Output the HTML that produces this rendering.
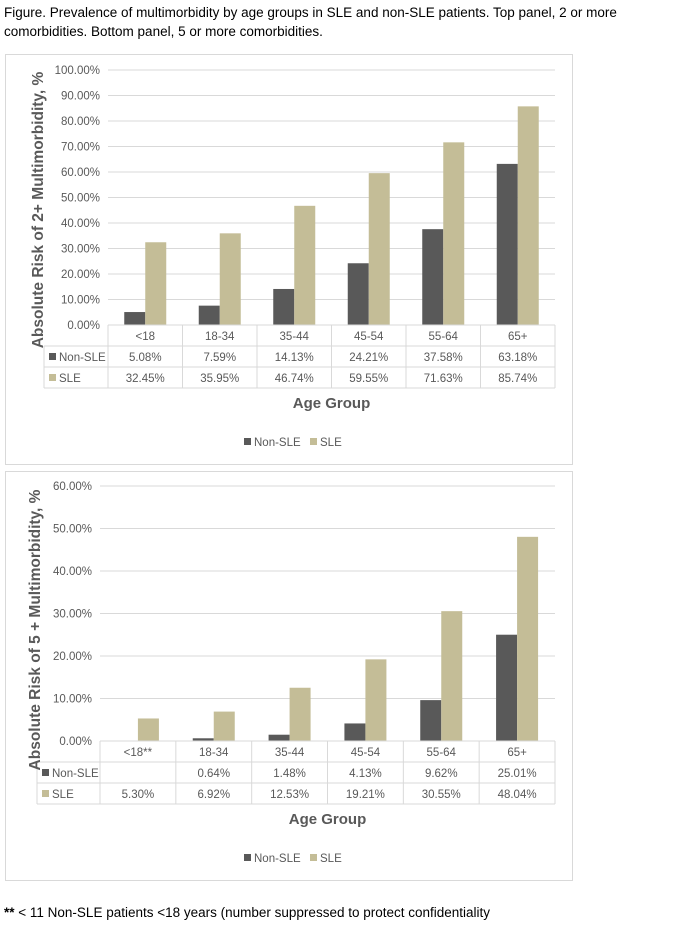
<!DOCTYPE html>
<html><head><meta charset="utf-8"><style>
body{margin:0;background:#fff;width:681px;height:932px;overflow:hidden;font-family:"Liberation Sans",sans-serif}
svg text{font-family:"Liberation Sans",sans-serif}
</style></head><body>
<div style="position:absolute;left:4px;top:3px;width:670px;font-size:13.5px;line-height:19px;color:#000">Figure. Prevalence of multimorbidity by age groups in SLE and non-SLE patients. Top panel, 2 or more comorbidities. Bottom panel, 5 or more comorbidities.</div>
<svg id="s" width="681" height="932" style="position:absolute;left:0;top:0"></svg>
<div style="position:absolute;left:4px;top:905px;font-size:13.5px;color:#000"><b>**</b> &lt; 11 Non-SLE patients &lt;18 years (number suppressed to protect confidentiality</div>
<script>
const categoriesTop=["<18","18-34","35-44","45-54","55-64","65+"];
const nonSleTop=[5.08,7.59,14.13,24.21,37.58,63.18];
const sleTop=[32.45,35.95,46.74,59.55,71.63,85.74];
const ticksTop=[0,10,20,30,40,50,60,70,80,90,100];
const categoriesBot=["<18**","18-34","35-44","45-54","55-64","65+"];
const nonSleBot=[null,0.64,1.48,4.13,9.62,25.01];
const sleBot=[5.30,6.92,12.53,19.21,30.55,48.04];
const ticksBot=[0,10,20,30,40,50,60];
const NS="http://www.w3.org/2000/svg";
const svg=document.getElementById('s');
function mk(t,a,txt,parent){const e=document.createElementNS(NS,t);for(const k in a)e.setAttribute(k,a[k]);if(txt!=null)e.textContent=txt;(parent||svg).appendChild(e);return e;}
function chart(o){
  const g=mk('g',{});
  
  
  const box=mk('rect',{x:o.bx,y:o.by,width:567,height:o.bh,fill:'#fff',stroke:'#d9d9d9'},null,g);
  
  
  const max=o.ticks[o.ticks.length-1];
  const y=v=>o.y0-(v/max)*(o.y0-o.y1);
  const cw=(o.x1-o.x0)/o.cats.length;
  const x=i=>o.x0+i*cw;
  o.ticks.forEach(t=>{
    if(t>0){const l=mk('line',{x1:o.x0,x2:o.x1,y1:y(t),y2:y(t),stroke:'#d9d9d9'},null,g);
    
    }
    const tx=mk('text',{x:o.x0-8,y:y(t)+4,'text-anchor':'end','font-size':11.5,fill:'#595959'},t.toFixed(2)+'%',g);
    
    
  });
  const bw=21;
  o.cats.forEach((c,i)=>{
    const cx=x(i)+cw/2;
    if(o.a[i]!=null){const r=mk('rect',{x:cx-bw,y:y(o.a[i]),width:bw,height:o.y0-y(o.a[i]),fill:'#595959'},null,g);
    
    }
    const r2=mk('rect',{x:cx,y:y(o.b[i]),width:bw,height:o.y0-y(o.b[i]),fill:'#c4bd97'},null,g);
    
    
  });
  const rh=21, tl=o.tl;
  const lc='#d9d9d9';
  mk('line',{x1:o.x0,x2:o.x1,y1:o.y0,y2:o.y0,stroke:lc},null,g);
  [1,2,3].forEach(k=>mk('line',{x1:tl,x2:o.x1,y1:o.y0+k*rh,y2:o.y0+k*rh,stroke:lc},null,g));
  mk('line',{x1:tl,x2:tl,y1:o.y0+rh,y2:o.y0+3*rh,stroke:lc},null,g);
  for(let i=0;i<=o.cats.length;i++)mk('line',{x1:x(i),x2:x(i),y1:o.y0,y2:o.y0+3*rh,stroke:lc},null,g);
  o.cats.forEach((c,i)=>{
    const cx=x(i)+cw/2;
    const t1=mk('text',{x:cx,y:o.y0+15,'text-anchor':'middle','font-size':11.5,fill:'#595959'},c,g);
    
    
    if(o.a[i]!=null){const t2=mk('text',{x:cx,y:o.y0+rh+15,'text-anchor':'middle','font-size':11.5,fill:'#595959'},o.a[i].toFixed(2)+'%',g);
    
    }
    const t3=mk('text',{x:cx,y:o.y0+2*rh+15,'text-anchor':'middle','font-size':11.5,fill:'#595959'},o.b[i].toFixed(2)+'%',g);
    
    
  });
  mk('rect',{x:tl+5,y:o.y0+rh+7,width:7,height:7,fill:'#595959'},null,g);
  mk('text',{x:tl+15,y:o.y0+rh+15,'font-size':11.5,fill:'#595959'},'Non-SLE',g);
  mk('rect',{x:tl+5,y:o.y0+2*rh+7,width:7,height:7,fill:'#c4bd97'},null,g);
  mk('text',{x:tl+15,y:o.y0+2*rh+15,'font-size':11.5,fill:'#595959'},'SLE',g);
  const yt=mk('text',{x:0,y:0,'text-anchor':'middle','font-size':15.5,'font-weight':'bold',fill:'#595959',transform:`translate(${o.ytx},${o.ytc}) rotate(-90)`},o.ytitle,g);
  
  
  const xt=mk('text',{x:(o.x0+o.x1)/2,y:o.xty,'text-anchor':'middle','font-size':15,'font-weight':'bold',fill:'#595959'},'Age Group',g);
  
  
  const lg=mk('g',{},null,g);
  
  
  mk('rect',{x:244,y:o.ly-8,width:7,height:7,fill:'#595959'},null,lg);
  mk('text',{x:254,y:o.ly,'font-size':11.5,fill:'#595959'},'Non-SLE',lg);
  mk('rect',{x:310,y:o.ly-8,width:7,height:7,fill:'#c4bd97'},null,lg);
  mk('text',{x:320,y:o.ly,'font-size':11.5,fill:'#595959'},'SLE',lg);
}
chart({name:'top-chart',bx:5.5,by:54.5,bh:410,x0:108,x1:555,y0:325,y1:70,tl:44,cats:categoriesTop,a:nonSleTop,b:sleTop,ticks:ticksTop,ytitle:'Absolute Risk of 2+ Multimorbidity, %',ytx:43,ytc:210,xty:408,ly:446});
chart({name:'bottom-chart',bx:5.5,by:471.5,bh:409,x0:100,x1:555,y0:741,y1:486,tl:37,cats:categoriesBot,a:nonSleBot,b:sleBot,ticks:ticksBot,ytitle:'Absolute Risk of 5 + Multimorbidity, %',ytx:40,ytc:630,xty:824,ly:862});
</script>
</body></html>
